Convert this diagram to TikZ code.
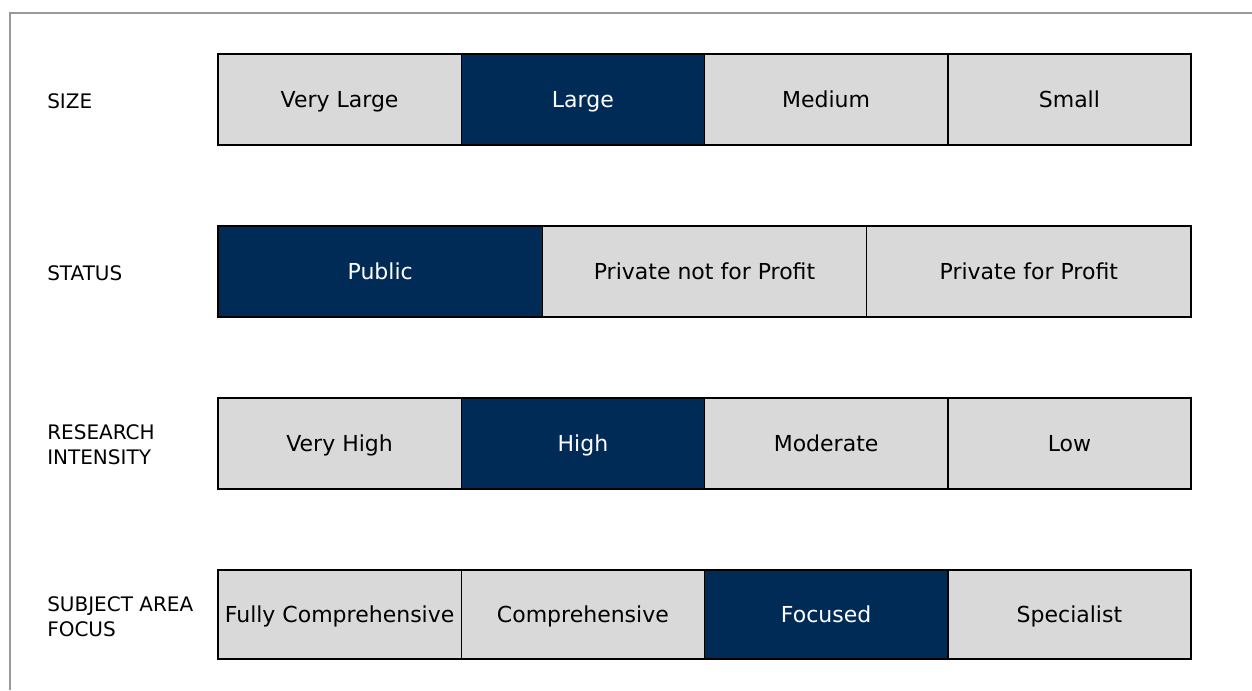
\documentclass[tikz,border=0pt]{standalone}
\usepackage{fontspec}
\setmainfont{DejaVu Sans}
\definecolor{navy}{RGB}{0,43,87}
\definecolor{cellgray}{RGB}{217,217,217}
\definecolor{framegray}{RGB}{153,153,153}
\tikzset{%
    cell/.style={rectangle, draw=black, line width=1.1pt, fill=cellgray, inner sep=0pt,
        minimum height=68.25pt, text height=12pt, text depth=0pt,
        font=\fontsize{16.5}{19}\selectfont},
    cellq/.style={cell, minimum width=182.44pt},
    cellt/.style={cell, minimum width=243.25pt},
    pick/.style={fill=navy, text=white},
    lbl/.style={anchor=west, align=left, inner sep=0pt, font=\fontsize{15}{18.75}\selectfont},
}
\begin{document}
\begin{tikzpicture}[x=0.75pt, y=-0.75pt]
    \useasboundingbox (0,0) rectangle (1252,690);
    \draw [framegray, line width=1.5pt] (10,690) -- (10,13) -- (1252,13);
    % size
    \node [lbl] (lsize) at (47,101) {SIZE};
    \node [cellq] (s1) at (339.6,99.5) {Very Large};
    \node [cellq,pick] (s2) at (582.9,99.5) {Large};
    \node [cellq] (s3) at (826.1,99.5) {Medium};
    \node [cellq] (s4) at (1069.4,99.5) {Small};
    % status
    \node [lbl] (lstatus) at (47,273) {STATUS};
    \node [cellt,pick] (t1) at (380.2,271.5) {Public};
    \node [cellt] (t2) at (704.5,271.5) {Private not for Profit};
    \node [cellt] (t3) at (1028.8,271.5) {Private for Profit};
    % research
    \node [lbl] (lresearch) at (47,445) {RESEARCH\\INTENSITY};
    \node [cellq] (r1) at (339.6,443.5) {Very High};
    \node [cellq,pick] (r2) at (582.9,443.5) {High};
    \node [cellq] (r3) at (826.1,443.5) {Moderate};
    \node [cellq] (r4) at (1069.4,443.5) {Low};
    % subject
    \node [lbl] (lsubject) at (47,617) {SUBJECT AREA\\FOCUS};
    \node [cellq, minimum height=66.75pt] (f1) at (339.6,614.5) {Fully Comprehensive};
    \node [cellq, minimum height=66.75pt] (f2) at (582.9,614.5) {Comprehensive};
    \node [cellq, minimum height=66.75pt, pick] (f3) at (826.1,614.5) {Focused};
    \node [cellq, minimum height=66.75pt] (f4) at (1069.4,614.5) {Specialist};
\end{tikzpicture}
\end{document}
